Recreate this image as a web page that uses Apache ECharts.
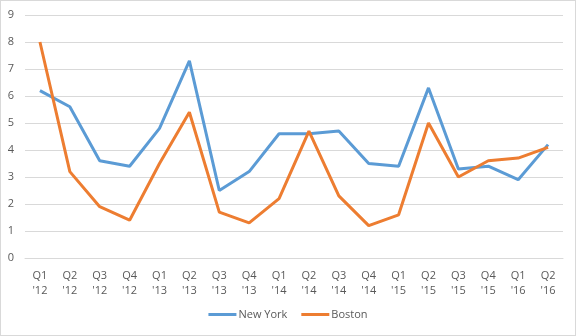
<!DOCTYPE html>
<html><head><meta charset="utf-8">
<script src="https://cdn.jsdelivr.net/npm/echarts@6/dist/echarts.min.js"></script>
<style>html,body{margin:0;padding:0;background:#fff}#c{width:576px;height:336px;box-sizing:border-box;border:1px solid #d9d9d9}</style>
</head><body><div id="c"></div>
<script>
var categories = ["Q1\n'12","Q2\n'12","Q3\n'12","Q4\n'12","Q1\n'13","Q2\n'13","Q3\n'13","Q4\n'13","Q1\n'14","Q2\n'14","Q3\n'14","Q4\n'14","Q1\n'15","Q2\n'15","Q3\n'15","Q4\n'15","Q1\n'16","Q2\n'16"];
var newYork = [6.2,5.6,3.6,3.4,4.8,7.3,2.5,3.2,4.6,4.6,4.7,3.5,3.4,6.3,3.3,3.4,2.9,4.2];
var boston = [8.0,3.2,1.9,1.4,3.5,5.4,1.7,1.3,2.2,4.7,2.3,1.2,1.6,5.0,3.0,3.6,3.7,4.1];
var chart = echarts.init(document.getElementById('c'));
chart.setOption({
  animation:false,
  textStyle:{fontFamily:'"Open Sans", "Liberation Sans", sans-serif'},
  grid:{left:24,right:12,top:14,bottom:77,containLabel:false},
  legend:{bottom:10,left:'center',itemWidth:28,itemHeight:3,itemGap:14,icon:'rect',
    textStyle:{color:'#595959',fontSize:11,padding:[0,0,0,-3]},data:['New York','Boston']},
  xAxis:{type:'category',data:categories,boundaryGap:true,
    axisLine:{lineStyle:{color:'#d9d9d9'}},axisTick:{show:false},
    axisLabel:{color:'#595959',fontSize:11,lineHeight:15,margin:10,interval:0}},
  yAxis:{type:'value',min:0,max:9,interval:1,
    axisLine:{show:false},axisTick:{show:false},
    axisLabel:{color:'#595959',fontSize:11,margin:11},
    splitLine:{lineStyle:{color:'#d9d9d9',type:'solid'}}},
  series:[
    {name:'New York',type:'line',data:newYork,symbol:'none',lineStyle:{width:3,color:'#5b9bd5'},itemStyle:{color:'#5b9bd5'}},
    {name:'Boston',type:'line',data:boston,symbol:'none',lineStyle:{width:3,color:'#ed7d31'},itemStyle:{color:'#ed7d31'}}
  ]
});
</script></body></html>
